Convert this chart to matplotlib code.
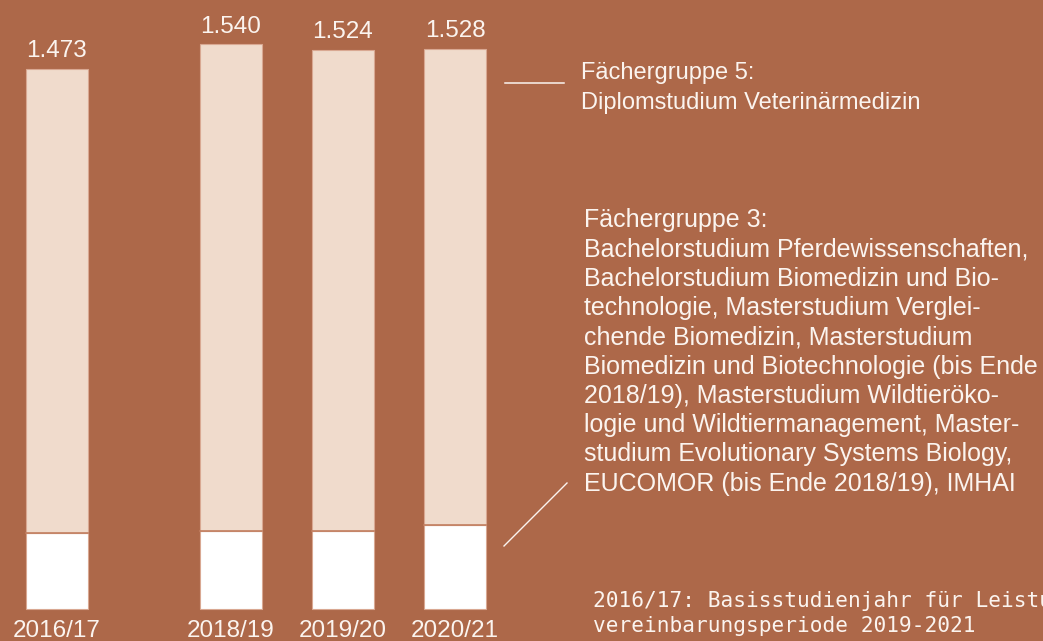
import matplotlib
matplotlib.use('Agg')
import matplotlib.pyplot as plt

# Studienjahre und Werte (Tausenderpunkt wie im Original)
years = ['2016/17', '2018/19', '2019/20', '2020/21']
totals = [1473, 1540, 1524, 1528]
fg3 = [206, 212, 212, 228]          # untere Segmente (Fächergruppe 3)
fg5 = [t - b for t, b in zip(totals, fg3)]  # obere Segmente (Fächergruppe 5)
total_labels = ['1.473', '1.540', '1.524', '1.528']

fg5_lines = ['Fächergruppe 5:', 'Diplomstudium Veterinärmedizin']
fg3_lines = ['Fächergruppe 3:',
             'Bachelorstudium Pferdewissenschaften,',
             'Bachelorstudium Biomedizin und Bio-',
             'technologie, Masterstudium Verglei-',
             'chende Biomedizin, Masterstudium',
             'Biomedizin und Biotechnologie (bis Ende',
             '2018/19), Masterstudium Wildtieröko-',
             'logie und Wildtiermanagement, Master-',
             'studium Evolutionary Systems Biology,',
             'EUCOMOR (bis Ende 2018/19), IMHAI']
note_lines = ['2016/17: Basisstudienjahr für Leistungs-',
              'vereinbarungsperiode 2019-2021']

BG = '#ad6849'
PEACH = '#f0dbcc'
TXT = '#fbf4ef'
W, H = 1043, 641

plt.rcParams['font.family'] = ['Liberation Sans', 'DejaVu Sans']

fig = plt.figure(figsize=(W / 100, H / 100), dpi=100)
fig.patch.set_facecolor(BG)
ax = fig.add_axes([0, 0, 1, 1])
ax.set_facecolor(BG)
ax.axis('off')

# x-Positionen: Lücke nach 2016/17 (2017/18 fehlt)
bar_w = 0.554
xpos = [-0.554, 1, 2, 3]
ax.set_xlim(-1.0625, -1.0625 + W / 112)
ybot = -32.5 / 0.3663
ax.set_ylim(ybot, ybot + H / 0.3663)

ax.bar(xpos, fg3, width=bar_w, color='white', edgecolor='#d9a892', linewidth=0.8)
ax.bar(xpos, fg5, bottom=fg3, width=bar_w, color=PEACH, edgecolor='#d9a892', linewidth=0.8)
for x, b in zip(xpos, fg3):
    ax.plot([x - bar_w / 2, x + bar_w / 2], [b, b], color='#c27e60', lw=1.2)

for x, t, lab in zip(xpos, totals, total_labels):
    ax.annotate(lab, (x, t), xytext=(0, 8.5), textcoords='offset points',
                ha='center', va='baseline', fontsize=17.5, color=TXT)
for x, y in zip(xpos, years):
    ax.annotate(y, (x, 0), xytext=(0, -20.3), textcoords='offset points',
                ha='center', va='baseline', fontsize=17.5, color=TXT)

# Legendentexte
for i, s in enumerate(fg5_lines):
    fig.text(581 / W, 1 - (79.3 + 29.3 * i) / H, s, fontsize=17, color=TXT, va='baseline')
for i, s in enumerate(fg3_lines):
    fig.text(584 / W, 1 - (227 + 29.3 * i) / H, s, fontsize=18, color=TXT, va='baseline')
for i, s in enumerate(note_lines):
    fig.text(593 / W, 1 - (607 + 25 * i) / H, s, fontsize=15.2, color=TXT,
             va='baseline', family='DejaVu Sans Mono')

# Zuordnungslinien
fig.add_artist(plt.Line2D([505 / W, 564 / W], [1 - 82.5 / H, 1 - 82.5 / H],
                          color=TXT, lw=1.1))
fig.add_artist(plt.Line2D([504 / W, 567 / W], [1 - 546 / H, 1 - 483 / H],
                          color=TXT, lw=1.0))

fig.savefig('out.png', dpi=100, facecolor=BG)
